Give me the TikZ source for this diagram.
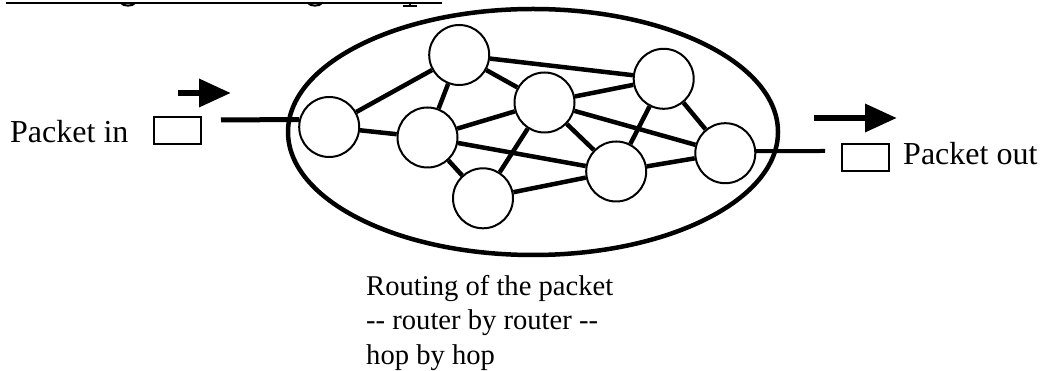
\documentclass[tikz,border=0pt]{standalone}
\usepackage{fontspec}
\setmainfont{Liberation Serif}
\usetikzlibrary{arrows.meta,shapes.geometric}
\begin{document}
\begin{tikzpicture}[x=1pt,y=-1pt,
  router/.style={circle,draw,fill=white,line width=2pt,minimum size=60pt,inner sep=0pt},
  link/.style={line width=4.5pt},
  packet/.style={rectangle,draw,line width=2pt,minimum width=47pt,minimum height=27pt,inner sep=0pt},
  flow/.style={line width=6.5pt,-{Triangle[length=32pt,width=27pt]}},
  label/.style={inner sep=0pt,font=\fontsize{32}{38}\selectfont}]
\useasboundingbox (0,0) rectangle (1042,371);

% clipped heading: only its underline and descenders remain
\draw[line width=2pt] (6,3) -- (442,3);
\draw[line width=2pt] (121,3) .. controls (123,6.5) and (133,6.5) .. (135,3);
\draw[line width=2pt] (308,3) .. controls (310,6.5) and (320,6.5) .. (322,3);
\draw[line width=2.5pt] (410,3) -- (410,5.5);
\draw[line width=1.5pt] (403,5.8) -- (417,5.8);

% network boundary
\node[ellipse,draw,line width=4.5pt,minimum width=490pt,minimum height=246pt,inner sep=0pt] (net) at (533,132) {};

% routers
\node[router] (r1) at (329.2,127) {};
\node[router] (r2) at (459.2,55) {};
\node[router] (r3) at (427.5,137.5) {};
\node[router] (r4) at (544.5,102.5) {};
\node[router] (r5) at (663.7,78.8) {};
\node[router] (r6) at (483,198.3) {};
\node[router] (r7) at (616.2,171.5) {};
\node[router] (r8) at (725.3,153.2) {};

% links between routers
\foreach \a/\b in {r1/r2,r1/r3,r2/r3,r2/r4,r2/r5,r3/r4,r3/r6,r3/r7,
                   r4/r5,r4/r6,r4/r7,r4/r8,r5/r7,r5/r8,r6/r7,r7/r8}
  \draw[link] (\a) -- (\b);

% packet entering
\node[label,anchor=base west] (inlbl) at (10,143) {Packet in};
\node[packet] (inbox) at (177.2,130.9) {};
\coordinate (inA) at (178,93);
\coordinate (inB) at (231,93);
\draw[flow] (inA) -- (inB);
\coordinate (inL) at (221,120);
\draw[line width=5pt] (inL) -- (r1.166.5);

% packet leaving
\coordinate (outL) at (825,151);
\draw[line width=4pt] (r8.4.2) -- (outL);
\node[packet] (outbox) at (865,158) {};
\node[label,anchor=base west] (outlbl) at (903,165) {Packet out};
\coordinate (outA) at (814,118);
\coordinate (outB) at (897,118);
\draw[flow] (outA) -- (outB);

% caption (base anchor sits on the last line)
\node[inner sep=0pt,anchor=base west,align=left,font=\fontsize{28.6}{35}\selectfont] (cap) at (366,365)
  {Routing of the packet\\{-}{-} router by router {-}{-}\\hop by hop};
\end{tikzpicture}
\end{document}
